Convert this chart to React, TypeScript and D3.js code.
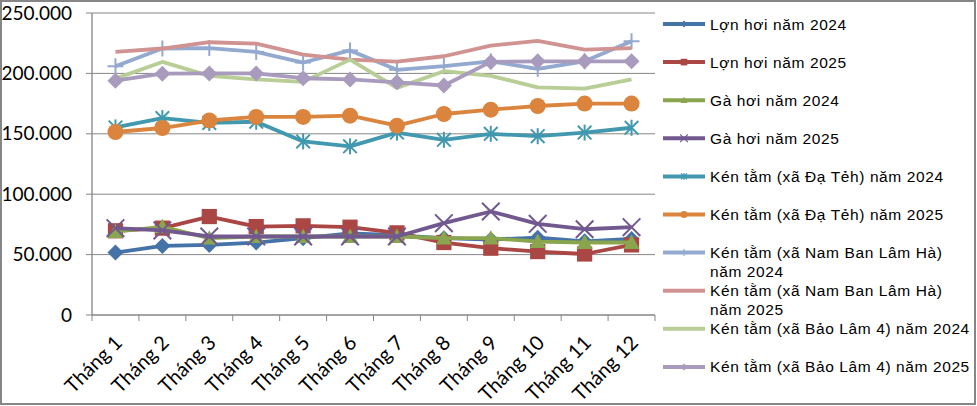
import * as d3 from "d3";
import React from "react";

const months = [
  "Tháng 1", "Tháng 2", "Tháng 3", "Tháng 4", "Tháng 5", "Tháng 6",
  "Tháng 7", "Tháng 8", "Tháng 9", "Tháng 10", "Tháng 11", "Tháng 12",
];

const lonHoi2024 = [51700, 57200, 58000, 60000, 63600, 67500, 66000, 63600, 62500, 64000, 61000, 63000];
const lonHoi2025 = [69700, 71900, 81500, 73200, 73800, 72700, 68000, 60000, 55300, 52500, 50500, 58000];
const gaHoi2024 = [69000, 73000, 63600, 65000, 65000, 65000, 65000, 63600, 63600, 60800, 60000, 60000];
const gaHoi2025 = [71900, 70000, 65000, 65000, 65000, 65000, 65000, 76000, 85700, 75500, 71000, 72700];
const kenDaTeh2024 = [155300, 163000, 159000, 160000, 143700, 139600, 151000, 145000, 150000, 148000, 151000, 155000];
const kenDaTeh2025 = [151500, 154800, 161000, 164000, 164000, 165000, 156700, 166400, 170000, 173000, 175000, 175000];
const kenNamBan2024 = [205900, 220600, 221000, 217800, 209000, 219000, 203000, 206000, 210000, 203800, 210000, 226600];
const kenNamBan2025 = [217800, 220600, 225800, 224700, 215600, 211400, 209800, 214200, 223000, 227000, 219700, 221000];
const kenBaoLam2024 = [195700, 209500, 198000, 195000, 193000, 211400, 188000, 201800, 198000, 188500, 187400, 195000];
const kenBaoLam2025 = [194000, 199800, 200000, 200000, 196000, 195000, 192600, 190000, 209500, 210000, 210000, 210000];

const seriesValues = [
  lonHoi2024, lonHoi2025, gaHoi2024, gaHoi2025, kenDaTeh2024,
  kenDaTeh2025, kenNamBan2024, kenNamBan2025, kenBaoLam2024, kenBaoLam2025,
];
const seriesNames = [
  ["Lợn hơi năm 2024"],
  ["Lợn hơi năm 2025"],
  ["Gà hơi năm 2024"],
  ["Gà hơi năm 2025"],
  ["Kén tằm (xã Đạ Tẻh) năm 2024"],
  ["Kén tằm (xã Đạ Tẻh) năm 2025"],
  ["Kén tằm (xã Nam Ban Lâm Hà)", "năm 2024"],
  ["Kén tằm (xã Nam Ban Lâm Hà)", "năm 2025"],
  ["Kén tằm (xã Bảo Lâm 4) năm 2024"],
  ["Kén tằm (xã Bảo Lâm 4) năm 2025"],
];
const seriesColors = [
  "#4572A7", "#AA4643", "#89A54E", "#71588F", "#4198AF",
  "#DB843D", "#93A9CF", "#D19392", "#B9CD96", "#A99BBD",
];
const seriesMarkers = [
  "diamond", "square", "triangle", "x", "asterisk",
  "circle", "plus", "none", "none", "diamond",
];
const yTicks = [0, 50000, 100000, 150000, 200000, 250000];

const width = 977;
const height = 406;
const left = 92;
const right = 655;
const top = 13;
const bottom = 315;

const fmt = (v: number) => d3.format(",")(v).replace(/,/g, ".");

const Marker = ({ type, cx, cy, s, color }: { type: string; cx: number; cy: number; s: number; color: string }) => {
  const sw = Math.max(1.2, s / 4);
  if (type === "diamond")
    return <polygon points={`${cx},${cy - s} ${cx + s},${cy} ${cx},${cy + s} ${cx - s},${cy}`} fill={color} />;
  if (type === "square")
    return <rect x={cx - s * 0.95} y={cy - s * 0.95} width={s * 1.9} height={s * 1.9} fill={color} />;
  if (type === "triangle")
    return <polygon points={`${cx},${cy - s} ${cx + s},${cy + s * 0.8} ${cx - s},${cy + s * 0.8}`} fill={color} />;
  if (type === "circle") return <circle cx={cx} cy={cy} r={s} fill={color} />;
  const parts: JSX.Element[] = [];
  if (type === "x" || type === "asterisk") {
    const d = type === "x" ? s * 1.1 : s * 0.85;
    parts.push(<line key="a" x1={cx - d} y1={cy - d} x2={cx + d} y2={cy + d} stroke={color} strokeWidth={sw} />);
    parts.push(<line key="b" x1={cx - d} y1={cy + d} x2={cx + d} y2={cy - d} stroke={color} strokeWidth={sw} />);
  }
  if (type === "asterisk" || type === "plus") {
    parts.push(<line key="c" x1={cx} y1={cy - s} x2={cx} y2={cy + s} stroke={color} strokeWidth={sw} />);
  }
  if (type === "plus") {
    parts.push(<line key="d" x1={cx - s} y1={cy} x2={cx + s} y2={cy} stroke={color} strokeWidth={sw} />);
  }
  return <g>{parts}</g>;
};

export default function App() {
  const x = d3.scaleBand<string>().domain(months).range([left, right]);
  const y = d3.scaleLinear().domain([0, 250000]).range([bottom, top]);
  const cx = (m: string) => (x(m) as number) + x.bandwidth() / 2;
  const line = d3
    .line<number>()
    .x((_, i) => cx(months[i]))
    .y((d) => y(d));

  const boundaries = months.map((m) => x(m) as number).concat([right]);

  return (
    <svg width={width} height={height} style={{ position: "absolute", left: 0, top: 0, background: "#fff" }}>
      <rect x={1} y={1} width={width - 3} height={height - 3} fill="#fff" stroke="#868686" strokeWidth={2} />

      {/* grid + y axis */}
      {yTicks.map((t) => (
        <g key={t}>
          {t > 0 && <line x1={left} x2={right} y1={y(t)} y2={y(t)} stroke="#868686" strokeWidth={1} />}
          <line x1={left - 6} x2={left} y1={y(t)} y2={y(t)} stroke="#868686" strokeWidth={1} />
          <text x={72} y={y(t)} dy="0.35em" textAnchor="end" fontFamily="Lato, sans-serif" fontSize={19} fill="#000">
            {fmt(t)}
          </text>
        </g>
      ))}
      <line x1={left} x2={left} y1={top} y2={bottom} stroke="#868686" strokeWidth={1.3} />
      <line x1={left} x2={right} y1={bottom} y2={bottom} stroke="#868686" strokeWidth={1.3} />
      {boundaries.map((b, i) => (
        <line key={i} x1={b} x2={b} y1={bottom} y2={bottom + 6} stroke="#868686" strokeWidth={1} />
      ))}
      {months.map((m) => (
        <text
          key={m}
          transform={`translate(${cx(m) + 3},${bottom + 24}) rotate(-45)`}
          textAnchor="end"
          fontFamily="Lato, sans-serif"
          fontSize={20}
          dy="0.35em"
          fill="#000"
        >
          {m}
        </text>
      ))}

      {/* series */}
      {seriesValues.map((vals, si) => (
        <g key={si}>
          <path d={line(vals) || ""} fill="none" stroke={seriesColors[si]} strokeWidth={3.8} strokeLinejoin="round" />
          {seriesMarkers[si] !== "none" &&
            vals.map((v, i) => (
              <Marker key={i} type={seriesMarkers[si]} cx={cx(months[i])} cy={y(v)} s={8} color={seriesColors[si]} />
            ))}
        </g>
      ))}

      {/* legend */}
      {seriesNames.map((lines, si) => {
        const ly = 24 + si * 38.1;
        return (
          <g key={si}>
            <line x1={663} x2={705} y1={ly} y2={ly} stroke={seriesColors[si]} strokeWidth={4} />
            {seriesMarkers[si] !== "none" && (
              <Marker type={seriesMarkers[si]} cx={684} cy={ly} s={3.5} color={seriesColors[si]} />
            )}
            {lines.map((t, li) => (
              <text
                key={li}
                x={710}
                y={ly + 5.5 + li * 18.5}
                fontFamily="'Liberation Sans', Arial, sans-serif"
                fontSize={15.5}
                letterSpacing={0.6}
                fill="#000"
              >
                {t}
              </text>
            ))}
          </g>
        );
      })}
    </svg>
  );
}
